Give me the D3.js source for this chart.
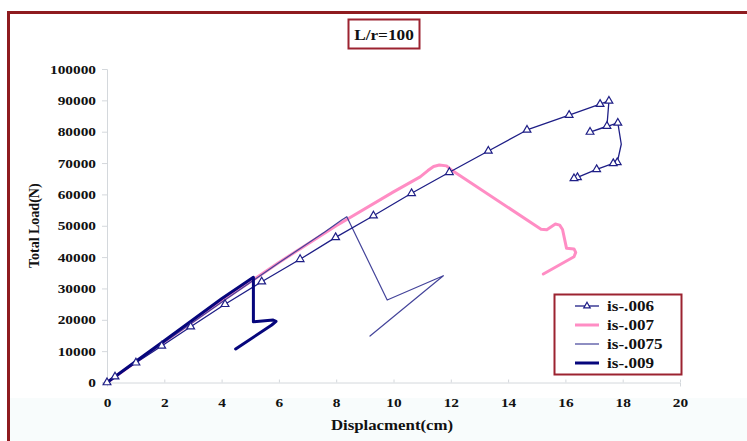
<!DOCTYPE html>
<html>
<head>
<meta charset="utf-8">
<script src="https://cdn.jsdelivr.net/npm/d3@7"></script>
<style>
  html, body { margin: 0; padding: 0; background: #ffffff; }
  svg { display: block; }
  text { font-family: "Liberation Serif", "Times New Roman", serif; font-weight: bold; fill: #111; }
</style>
</head>
<body>
<svg id="chart" width="747" height="441"></svg>
<script>
// Load–displacement curves for L/r = 100
const xTicks = [0, 2, 4, 6, 8, 10, 12, 14, 16, 18, 20];
const yTicks = [0, 10000, 20000, 30000, 40000, 50000, 60000, 70000, 80000, 90000, 100000];

const s006X = [0, 0.28, 1.01, 1.91, 2.92, 4.12, 5.40, 6.74, 7.98, 9.30, 10.63, 11.95, 13.31, 14.66, 16.13, 17.21, 17.52, 17.45, 16.86, 17.83, 17.95, 17.81, 17.67, 17.09, 16.42, 16.30];
const s006Y = [0, 1850, 6300, 11650, 17800, 24950, 32150, 39300, 46300, 53200, 60350, 67050, 73850, 80550, 85300, 88800, 89800, 81800, 79900, 82800, 76000, 70200, 69900, 68000, 65450, 65100];
const s006Marked = [1,1,1,1,1,1,1,1,1,1,1,1,1,1,1,1,1,1,1,1,0,1,1,1,1,1];

const s007X = [0, 2, 4, 6, 8, 10, 10.93, 11.2, 11.4, 11.6, 11.85, 12.05, 15.15, 15.35, 15.65, 15.8, 15.9, 16.04, 16.3, 16.36, 16.3, 15.23];
const s007Y = [0, 13000, 25900, 38300, 50000, 60800, 65600, 67600, 68900, 69400, 69100, 67600, 48900, 48700, 50550, 50200, 48800, 42800, 42600, 41500, 40100, 34600];

const s0075X = [0, 2, 4, 6, 7.6, 8.19, 8.37, 9.78, 11.74, 9.18];
const s0075Y = [0, 12800, 25600, 38200, 48000, 51800, 52900, 26300, 34070, 14830];

const s009X = [0, 1, 2, 3, 4, 5.11, 5.11, 5.8, 5.9, 5.75, 4.49];
const s009Y = [0, 6700, 13300, 20000, 26700, 33560, 19400, 19900, 19500, 18340, 10690];

const seriesNames = ["is-.006", "is-.007", "is-.0075", "is-.009"];

const svg = d3.select("#chart");
const W = 747, H = 441;
const frameColor = "#8e1b1f";

// the chart's lettering is set a little wide; stretch glyphs horizontally
function widen(sel, k) {
  sel.each(function () {
    const len = this.getComputedTextLength();
    d3.select(this).attr("textLength", len * k).attr("lengthAdjust", "spacingAndGlyphs");
  });
}

// faint tint under the plot area, then the outer frame
svg.append("rect").attr("x", 9).attr("y", 398).attr("width", W).attr("height", H - 398)
  .attr("fill", "#f8fcfc");
svg.append("rect").attr("x", 8.5).attr("y", 12.5).attr("width", W + 10).attr("height", H + 10)
  .attr("fill", "none").attr("stroke", frameColor).attr("stroke-width", 3);

const x = d3.scaleLinear().domain([0, 20]).range([107, 680]);
const y = d3.scaleLinear().domain([0, 100000]).range([382.5, 69]);

// axes
const xAxis = svg.append("g").attr("transform", `translate(0,${y(0)})`)
  .call(d3.axisBottom(x).tickValues(xTicks).tickSize(4).tickPadding(11).tickFormat(d3.format("d")));
const yAxis = svg.append("g").attr("transform", `translate(${x(0)},0)`)
  .call(d3.axisLeft(y).tickValues(yTicks).tickSize(5).tickPadding(6).tickFormat(d3.format("d")));
[xAxis, yAxis].forEach(g => {
  g.select(".domain").attr("stroke", "#d4d8dc");
  g.selectAll(".tick line").attr("stroke", "#d4d8dc");
  g.selectAll(".tick text").attr("font-size", 13)
    .attr("font-family", "Liberation Serif, serif").attr("font-weight", "bold").attr("fill", "#111");
  widen(g.selectAll(".tick text"), 1.18);
});
xAxis.selectAll(".tick line").attr("y1", -3).attr("y2", 0);

// axis titles
const xTitle = svg.append("text").attr("x", 392).attr("y", 430).attr("text-anchor", "middle")
  .attr("font-size", 14).text("Displacment(cm)");
widen(xTitle, 1.2);
svg.append("text").attr("transform", `translate(39,${y(50000)}) rotate(-90)`)
  .attr("text-anchor", "middle").attr("font-size", 14).text("Total Load(N)");

// chart title in a box
svg.append("rect").attr("x", 348.5).attr("y", 19.5).attr("width", 71).attr("height", 29)
  .attr("fill", "#fff").attr("stroke", "#9c2330").attr("stroke-width", 2);
const title = svg.append("text").attr("x", 384).attr("y", 40).attr("text-anchor", "middle")
  .attr("font-size", 15).text("L/r=100");
widen(title, 1.15);

const pts = (xs, ys) => xs.map((v, i) => [v, ys[i]]);
const line = d3.line().x(d => x(d[0])).y(d => y(d[1]));

const plot = svg.append("g").attr("fill", "none").attr("stroke-linejoin", "round").attr("stroke-linecap", "round");

plot.append("path").datum(pts(s007X, s007Y)).attr("d", line)
  .attr("stroke", "#ff8dc4").attr("stroke-width", 3);
plot.append("path").datum(pts(s0075X, s0075Y)).attr("d", line)
  .attr("stroke", "#44449a").attr("stroke-width", 1.2);
plot.append("path").datum(pts(s006X, s006Y)).attr("d", line)
  .attr("stroke", "#1e1e86").attr("stroke-width", 1.3);
plot.append("path").datum(pts(s009X, s009Y)).attr("d", line)
  .attr("stroke", "#06067c").attr("stroke-width", 3);

const tri = d3.symbol().type(d3.symbolTriangle).size(26);
svg.append("g").selectAll("path")
  .data(pts(s006X, s006Y).filter((d, i) => s006Marked[i]))
  .join("path")
  .attr("transform", d => `translate(${x(d[0])},${y(d[1])})`)
  .attr("d", tri).attr("fill", "#ffffff").attr("stroke", "#1e1e86").attr("stroke-width", 1.2);

// legend
const legend = svg.append("g");
legend.append("rect").attr("x", 554.5).attr("y", 294.5).attr("width", 127).attr("height", 80)
  .attr("fill", "#fff").attr("stroke", "#9c2330").attr("stroke-width", 2);
const legStyles = [
  { color: "#1e1e86", width: 1.3, marker: true },
  { color: "#ff8dc4", width: 3, marker: false },
  { color: "#44449a", width: 1.2, marker: false },
  { color: "#06067c", width: 3, marker: false }
];
seriesNames.forEach((name, i) => {
  const cy = 306 + i * 19;
  const st = legStyles[i];
  legend.append("line").attr("x1", 575).attr("x2", 599).attr("y1", cy).attr("y2", cy)
    .attr("stroke", st.color).attr("stroke-width", st.width);
  if (st.marker) {
    legend.append("path").attr("transform", `translate(587,${cy})`)
      .attr("d", d3.symbol().type(d3.symbolTriangle).size(18))
      .attr("fill", "#fff").attr("stroke", st.color).attr("stroke-width", 1.2);
  }
  const t = legend.append("text").attr("x", 607).attr("y", cy + 5).attr("font-size", 15).text(name);
  widen(t, 1.14);
});
</script>
</body>
</html>
